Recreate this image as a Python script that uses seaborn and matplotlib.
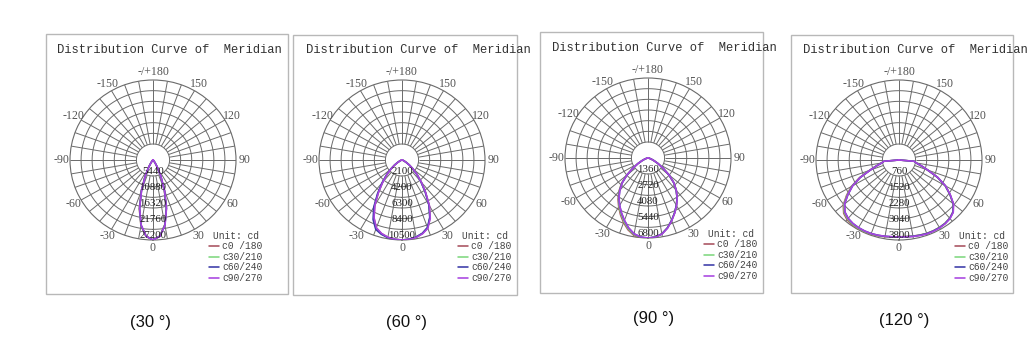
import numpy as np
import pandas as pd
import matplotlib
matplotlib.use("Agg")
import matplotlib.pyplot as plt
from matplotlib.patches import Rectangle
import seaborn as sns

# ---------------- data ----------------
gamma = list(range(-90, 95, 5))           # vertical angle, degrees
planes = ["c0 /180", "c30/210", "c60/240", "c90/270"]
plane_colors = ["#a8505e", "#7ed87e", "#3a3aa8", "#a844e0"]
captions = ["(30 °)", "(60 °)", "(90 °)", "(120 °)"]
chart_title = "Distribution Curve of  Meridian"
unit_label = "Unit: cd"

ring_labels_30 = [5440, 10880, 16320, 21760, 27200]
ring_labels_60 = [2100, 4200, 6300, 8400, 10500]
ring_labels_90 = [1360, 2720, 4080, 5440, 6800]
ring_labels_120 = [760, 1520, 2280, 3040, 3800]

angle_ticks = [0, 30, 60, 90, 120, 150, 180, -150, -120, -90, -60, -30]
angle_tick_labels = ["0", "30", "60", "90", "120", "150", "-/+180",
                     "-150", "-120", "-90", "-60", "-30"]

# 30 degree beam
b30_c0 = [0, 10, 20, 30, 40, 60, 80, 110, 150, 260, 520, 1250, 2900, 6200, 11300, 17300, 22700, 26100, 27200,
          25900, 22300, 16800, 10800, 5900, 2750, 1180, 490, 240, 150, 110, 80, 60, 40, 30, 20, 10, 0]
b30_c30 = [0, 10, 20, 30, 40, 60, 80, 110, 150, 255, 510, 1220, 2850, 6100, 11150, 17150, 22600, 26050, 27200,
           25950, 22400, 16900, 10900, 5950, 2780, 1190, 495, 245, 150, 110, 80, 60, 40, 30, 20, 10, 0]
b30_c60 = [0, 10, 20, 30, 40, 60, 80, 110, 150, 250, 500, 1200, 2800, 6000, 11000, 17000, 22500, 26000, 27200,
           26000, 22500, 17000, 11000, 6000, 2800, 1200, 500, 250, 150, 110, 80, 60, 40, 30, 20, 10, 0]
b30_c90 = [0, 10, 20, 30, 40, 60, 80, 110, 150, 245, 490, 1180, 2750, 5950, 10900, 16900, 22400, 25950, 27200,
           26050, 22600, 17100, 11100, 6050, 2820, 1210, 505, 255, 150, 110, 80, 60, 40, 30, 20, 10, 0]

# 60 degree beam
b60_c0 = [0, 20, 40, 80, 150, 300, 600, 1100, 1800, 2700, 3800, 5200, 6900, 8400, 9500, 10000, 10300, 10450, 10500,
          10450, 10300, 10000, 9500, 8400, 6900, 5200, 3800, 2700, 1800, 1100, 600, 300, 150, 80, 40, 20, 0]
b60_c30 = [0, 20, 40, 80, 150, 310, 620, 1130, 1850, 2750, 3870, 5300, 7000, 8500, 9600, 10050, 10320, 10460, 10500,
           10440, 10280, 9970, 9450, 8350, 6850, 5150, 3760, 2680, 1780, 1090, 590, 300, 150, 80, 40, 20, 0]
b60_c60 = [0, 20, 40, 80, 160, 320, 640, 1160, 1900, 2800, 3950, 5400, 7150, 8650, 9700, 10100, 10350, 10470, 10500,
           10430, 10260, 9950, 9420, 8300, 6800, 5100, 3720, 2650, 1760, 1080, 580, 290, 150, 80, 40, 20, 0]
b60_c90 = [0, 20, 40, 80, 150, 300, 600, 1100, 1800, 2690, 3780, 5170, 6860, 8360, 9470, 9980, 10290, 10440, 10500,
           10460, 10320, 10030, 9550, 8460, 6950, 5240, 3830, 2720, 1810, 1110, 610, 300, 150, 80, 40, 20, 0]

# 90 degree beam
b90_c0 = [0, 30, 70, 150, 300, 560, 970, 1540, 2300, 3080, 3700, 4280, 4800, 5330, 5850, 6320, 6680, 6820, 6820,
          6750, 6550, 6150, 5650, 5150, 4650, 4150, 3600, 3000, 2250, 1500, 950, 550, 300, 150, 70, 30, 0]
b90_c30 = [0, 30, 70, 150, 300, 555, 960, 1520, 2280, 3040, 3650, 4220, 4730, 5240, 5750, 6240, 6610, 6780, 6810,
           6750, 6550, 6150, 5650, 5150, 4650, 4150, 3600, 3000, 2250, 1500, 950, 550, 300, 150, 70, 30, 0]
b90_c60 = [0, 30, 70, 150, 300, 550, 950, 1500, 2250, 3000, 3600, 4150, 4650, 5150, 5650, 6150, 6550, 6750, 6800,
           6750, 6550, 6150, 5650, 5150, 4650, 4150, 3600, 3000, 2250, 1500, 950, 550, 300, 150, 70, 30, 0]
b90_c90 = [0, 30, 70, 150, 300, 550, 950, 1500, 2240, 2990, 3590, 4140, 4640, 5140, 5640, 6140, 6540, 6750, 6800,
           6760, 6570, 6180, 5680, 5180, 4680, 4170, 3620, 3010, 2260, 1500, 950, 550, 300, 150, 70, 30, 0]

# 120 degree beam
b120_c0 = [0, 700, 810, 1070, 1430, 2000, 2520, 2930, 3330, 3580, 3700, 3760, 3780, 3780, 3760, 3730, 3700, 3670, 3650,
           3650, 3670, 3690, 3710, 3710, 3700, 3670, 3610, 3490, 3240, 2840, 2440, 1940, 1390, 1040, 790, 700, 0]
b120_c30 = [0, 700, 805, 1060, 1415, 1975, 2485, 2890, 3290, 3540, 3660, 3720, 3745, 3750, 3740, 3715, 3690, 3665, 3650,
            3655, 3675, 3695, 3715, 3715, 3705, 3675, 3615, 3495, 3245, 2845, 2445, 1945, 1395, 1045, 795, 700, 0]
b120_c60 = [0, 700, 800, 1050, 1400, 1950, 2450, 2850, 3250, 3500, 3620, 3680, 3710, 3720, 3720, 3700, 3680, 3660, 3650,
            3660, 3680, 3700, 3720, 3720, 3710, 3680, 3620, 3500, 3250, 2850, 2450, 1950, 1400, 1050, 800, 700, 0]
b120_c90 = [0, 700, 800, 1050, 1400, 1950, 2450, 2850, 3250, 3500, 3620, 3680, 3710, 3720, 3720, 3700, 3680, 3660, 3650,
            3665, 3690, 3715, 3735, 3735, 3725, 3695, 3635, 3515, 3265, 2865, 2460, 1960, 1405, 1055, 805, 700, 0]

panel_series = [
    [b30_c0, b30_c30, b30_c60, b30_c90],
    [b60_c0, b60_c30, b60_c60, b60_c90],
    [b90_c0, b90_c30, b90_c60, b90_c90],
    [b120_c0, b120_c30, b120_c60, b120_c90],
]
panel_rings = [ring_labels_30, ring_labels_60, ring_labels_90, ring_labels_120]

# ---------------- layout (pixels) ----------------
W, H = 1030, 343
centers = [(153, 160), (402, 160), (648, 158), (899, 160)]
boxes = [(46, 34, 288, 294), (293, 35, 517, 295), (540, 32, 763, 293), (791, 35, 1013, 293)]
caption_pos = [(151, 322), (407, 322), (654, 318), (904, 321)]
RX, RY = 83, 80
N_RING_STEPS = 6          # equal ring steps between the inner hole and the outer ring

sns.set_theme(style="white")
plt.rcParams["font.family"] = ["Liberation Serif", "DejaVu Sans"]

fig = plt.figure(figsize=(W / 100, H / 100), dpi=100)
fig.patch.set_facecolor("white")


def fx(x):
    return x / W


def fy(y):
    return 1 - y / H


grid_col = "#6a6a6a"
mono = "Liberation Mono"

for i in range(4):
    cx, cy = centers[i]
    rings = panel_rings[i]
    rmax = rings[-1]
    r_in = rings[0]

    # frame box
    x0, y0, x1, y1 = boxes[i]
    fig.patches.append(Rectangle((fx(x0), fy(y1)), fx(x1) - fx(x0), fy(y0) - fy(y1),
                                 transform=fig.transFigure, fill=False,
                                 edgecolor="#b8b8b8", lw=1.0, zorder=0))

    ax = fig.add_axes([fx(cx - RX), fy(cy + RY), 2 * RX / W, 2 * RY / H], projection="polar")
    ax.set_aspect("auto")
    ax.set_theta_zero_location("S")
    ax.set_theta_direction(1)
    ax.patch.set_alpha(0)

    # custom grid: inner hole ring + equal rings, spokes every 10 degrees from the hole
    th = np.linspace(0, 2 * np.pi, 361)
    for rv in np.linspace(r_in, rmax, N_RING_STEPS + 1)[:-1]:
        ax.plot(th, np.full_like(th, rv), color=grid_col, lw=0.7, zorder=1)
    ax.vlines(np.deg2rad(np.arange(0, 360, 10)), r_in, rmax, colors=grid_col, lw=0.7, zorder=1)

    # data
    df = pd.DataFrame({
        "theta": np.tile(np.deg2rad(gamma), 4),
        "cd": np.concatenate([np.asarray(s, float) for s in panel_series[i]]),
        "plane": np.repeat(planes, len(gamma)),
    })
    sns.lineplot(data=df, x="theta", y="cd", hue="plane", hue_order=planes,
                 palette=dict(zip(planes, plane_colors)), sort=False, estimator=None,
                 lw=1.15, ax=ax, zorder=3)

    ax.set_ylim(0, rmax)
    ax.grid(False)
    ax.set_xticks([])
    ax.set_yticks([])
    ax.set_xlabel("")
    ax.set_ylabel("")
    ax.spines["polar"].set_color(grid_col)
    ax.spines["polar"].set_linewidth(0.8)

    # angle labels
    for a, lab in zip(angle_ticks, angle_tick_labels):
        ax.text(np.deg2rad(a), rmax * 1.1, lab, ha="center", va="center",
                fontsize=8.6, color="#555555", clip_on=False)
    # radial labels
    for v in rings:
        ax.text(0, v, str(v), ha="center", va="bottom", fontsize=7.8,
                color="#222222", zorder=4)

    # legend
    leg = ax.get_legend()
    handles = list(leg.legend_handles)
    labels = [t.get_text() for t in leg.get_texts()]
    leg.remove()
    ax.legend(handles, labels, title=unit_label, loc="upper left",
              bbox_to_anchor=(fx(cx + 56), fy(cy + 71)), bbox_transform=fig.transFigure,
              frameon=False, prop={"family": mono, "size": 6.9},
              title_fontproperties={"family": mono, "size": 6.9},
              handlelength=1.05, handletextpad=0.3, labelspacing=0.05,
              borderpad=0, borderaxespad=0)
    for t in ax.get_legend().get_texts():
        t.set_color("#444444")
    ax.get_legend().get_title().set_color("#444444")

    # title
    fig.text(fx(cx - 96), fy(cy - 110), chart_title, ha="left", va="center",
             family=mono, fontsize=8.75, color="#333333")

    # caption
    fig.text(fx(caption_pos[i][0]), fy(caption_pos[i][1]), captions[i], ha="center",
             va="center", family="Liberation Sans", fontsize=12, color="#111111")

fig.savefig("out.png", dpi=100)
